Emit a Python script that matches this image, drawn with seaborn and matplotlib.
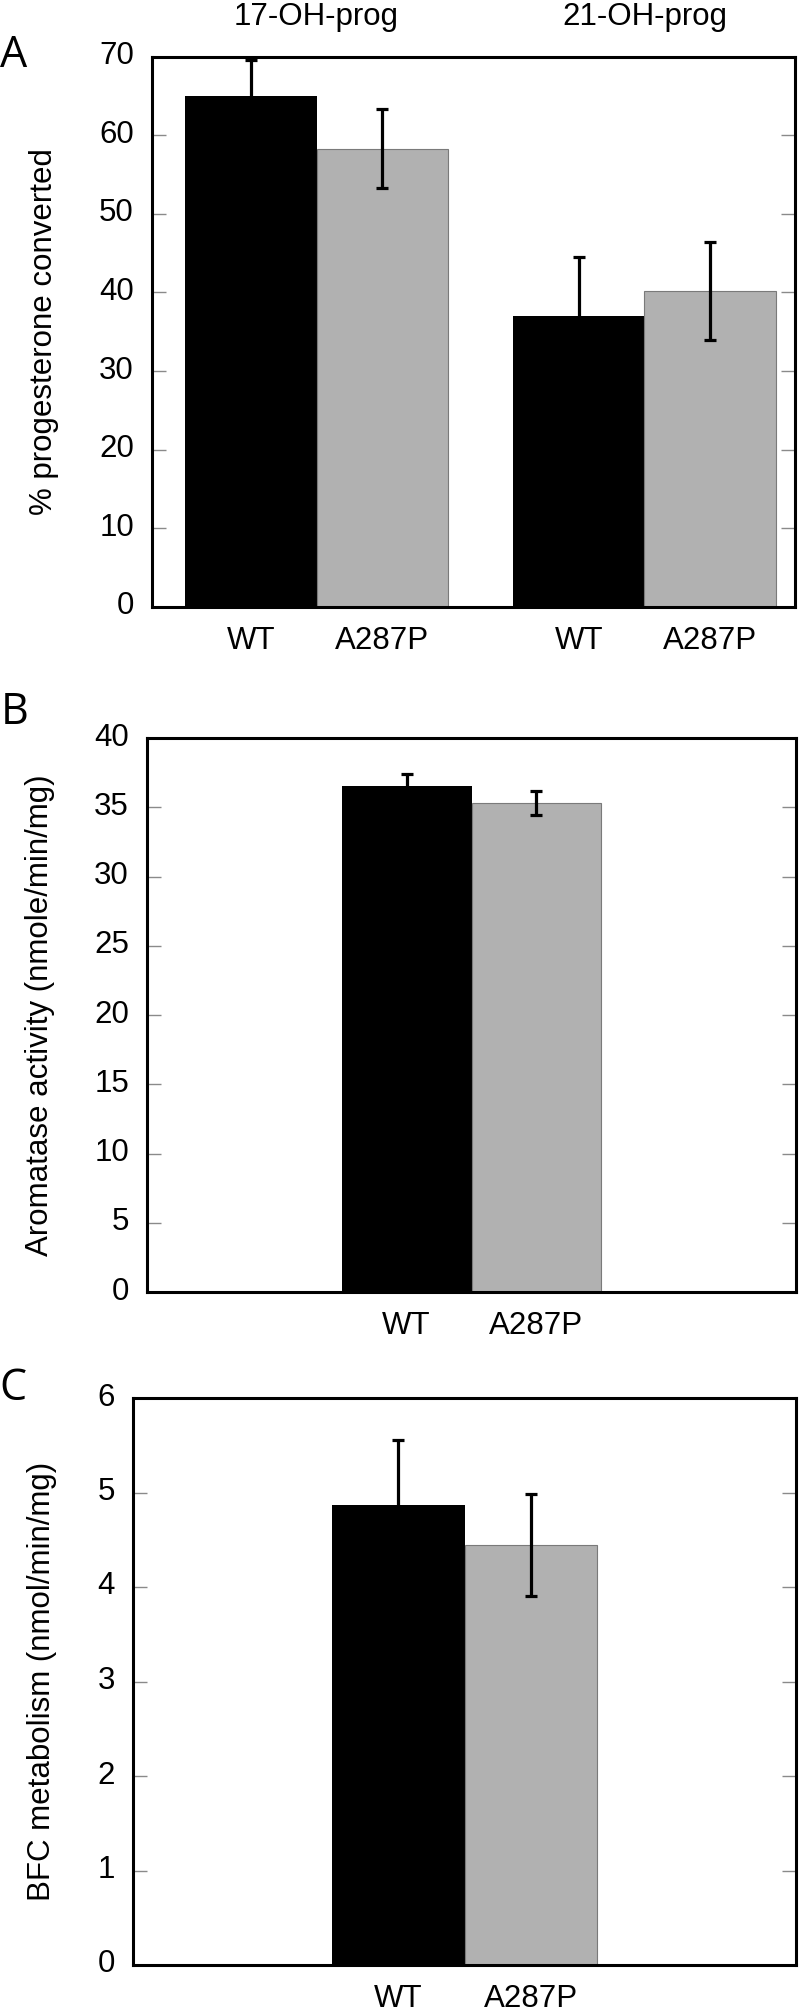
import matplotlib
matplotlib.use("Agg")
import matplotlib.pyplot as plt
import seaborn as sns
import pandas as pd
from matplotlib.transforms import ScaledTranslation, blended_transform_factory

# ---------------- data ----------------
variants = ["WT", "A287P"]

a_substrates = ["17-OH-prog", "21-OH-prog"]
a_wt_mean = [65.0, 37.0]
a_wt_err = [4.5, 7.5]
a_mut_mean = [58.3, 40.2]
a_mut_err = [5.05, 6.2]

b_category = ["Aromatase"]
b_wt_mean = [36.5]
b_wt_err = [0.9]
b_mut_mean = [35.3]
b_mut_err = [0.85]

c_category = ["BFC"]
c_wt_mean = [4.87]
c_wt_err = [0.69]
c_mut_mean = [4.44]
c_mut_err = [0.54]

a_yticks = [0, 10, 20, 30, 40, 50, 60, 70]
b_yticks = [0, 5, 10, 15, 20, 25, 30, 35, 40]
c_yticks = [0, 1, 2, 3, 4, 5, 6]

BLACK = "#000000"
GRAY = "#b1b1b1"
FS = 22.5

sns.set_theme(style="white")
plt.rcParams["font.family"] = ["Liberation Sans", "DejaVu Sans"]

W, H = 800, 2013
fig = plt.figure(figsize=(W / 100, H / 100), dpi=100)


def make_df(cats, wt, mut):
    rows = []
    for i, c in enumerate(cats):
        rows.append({"cat": c, "variant": "WT", "val": wt[i]})
        rows.append({"cat": c, "variant": "A287P", "val": mut[i]})
    return pd.DataFrame(rows)


def px_rect(left, right, top, bottom):
    return [left / W, 1 - bottom / H, (right - left) / W, (bottom - top) / H]


def panel(rect, cats, wt, wt_err, mut, mut_err, ylim, yticks, ylabel,
          ylabel_x_px, letter, letter_xy, xlim, titles=False):
    ax = fig.add_axes(px_rect(*rect))
    df = make_df(cats, wt, mut)
    sns.barplot(data=df, x="cat", y="val", hue="variant", order=cats,
                hue_order=variants, palette=[BLACK, GRAY], saturation=1,
                errorbar=None, width=0.8, legend=False, ax=ax, zorder=2)
    patches = sorted(ax.patches, key=lambda p: p.get_x())
    errs = []
    for i in range(len(cats)):
        errs += [wt_err[i], mut_err[i]]
    centers = []
    for k, p in enumerate(patches):
        if k % 2 == 1:
            p.set_edgecolor("#7a7a7a")
            p.set_linewidth(0.8)
        else:
            p.set_edgecolor("none")
        xc = p.get_x() + p.get_width() / 2
        centers.append(xc)
        ax.errorbar(xc, p.get_height(), yerr=errs[k], fmt="none",
                    ecolor="black", elinewidth=2.3, capsize=4, capthick=2.3,
                    zorder=5)
    ax.set_xlim(*xlim)
    ax.set_ylim(*ylim)
    ax.set_yticks(yticks)
    ax.set_yticklabels([str(t) for t in yticks])
    ax.set_xticks(centers)
    ax.set_xticklabels(variants * len(cats))
    ax.set_xlabel("")
    ax.tick_params(axis="y", direction="in", length=10, width=1.0,
                   color="#8a8a8a", left=True, right=True, labelsize=FS,
                   labelcolor="black", pad=13)
    ax.tick_params(axis="x", length=0, labelsize=FS, labelcolor="black",
                   pad=14)
    for lab in ax.get_yticklabels():
        lab.set_transform(lab.get_transform() +
                          ScaledTranslation(0, 4 / 100, fig.dpi_scale_trans))
    for s in ax.spines.values():
        s.set_visible(True)
        s.set_color("black")
        s.set_linewidth(2.2)
    ax.set_ylabel(ylabel, fontsize=FS, color="black", va="center")
    left_px = rect[0]
    width_px = rect[1] - rect[0]
    ax.yaxis.set_label_coords((ylabel_x_px - left_px) / width_px, 0.5)
    fig.text(letter_xy[0] / W, 1 - letter_xy[1] / H, letter,
             fontsize=31, family=["Open Sans", "DejaVu Sans"],
             ha="center", va="center", color="black")
    if titles:
        trans = blended_transform_factory(ax.transData, ax.transAxes)
        ypos = 1 + (rect[2] - 16.5) / (rect[3] - rect[2])
        for i, c in enumerate(cats):
            ax.text(i, ypos, c, transform=trans, ha="center", va="center",
                    fontsize=FS, color="black")
    return ax


panel((152, 795, 56.5, 607), a_substrates, a_wt_mean, a_wt_err,
      a_mut_mean, a_mut_err, (0, 70), a_yticks,
      "% progesterone converted", 44, "A", (14, 56), (-0.502, 1.459),
      titles=True)

panel((147, 796, 738, 1292), b_category, b_wt_mean, b_wt_err,
      b_mut_mean, b_mut_err, (0, 40), b_yticks,
      "Aromatase activity (nmole/min/mg)", 40, "B", (15, 713), (-1, 1))

panel((133, 796, 1398, 1965), c_category, c_wt_mean, c_wt_err,
      c_mut_mean, c_mut_err, (0, 6), c_yticks,
      "BFC metabolism (nmol/min/mg)", 42, "C", (13, 1389), (-1, 1))

fig.savefig("out.png", dpi=100)
